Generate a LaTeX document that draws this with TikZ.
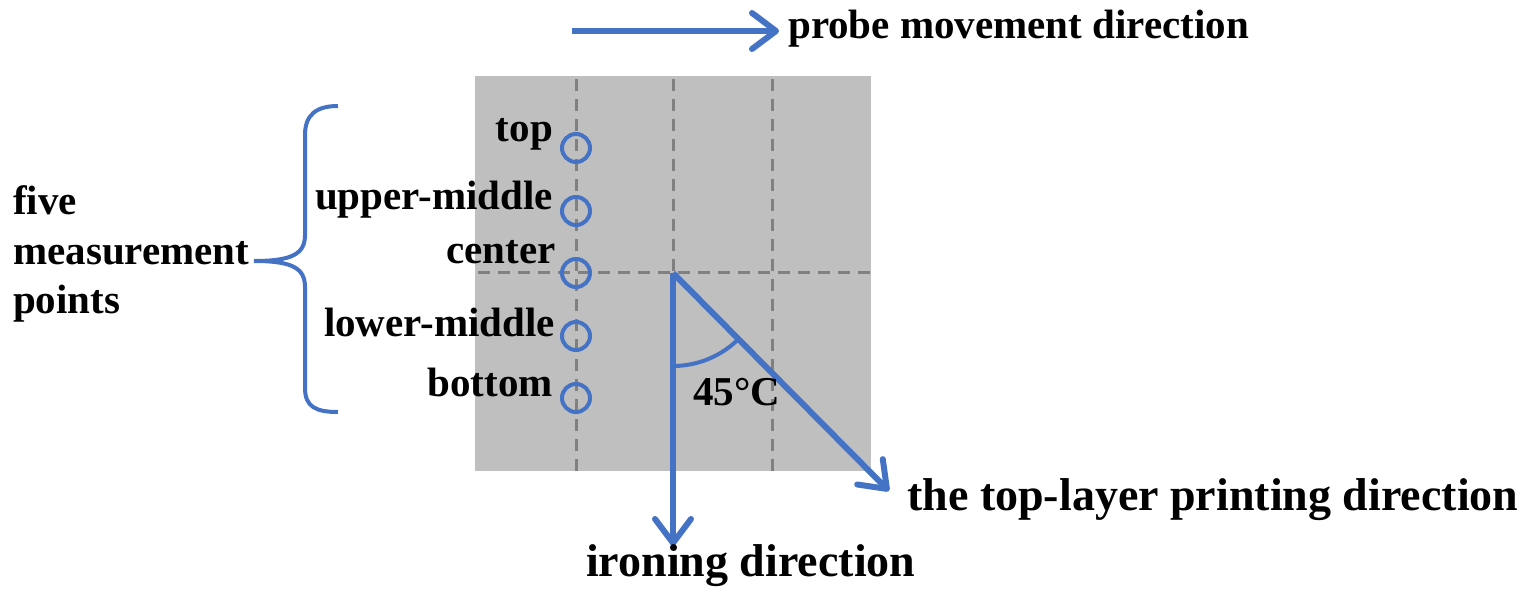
\documentclass[tikz,border=0pt]{standalone}
\usepackage{fontspec}
\setmainfont{Liberation Serif}
\usetikzlibrary{arrows.meta}
\definecolor{myblue}{HTML}{4472C4}
\definecolor{panelgray}{HTML}{BFBFBF}
\definecolor{gridgray}{HTML}{808080}
\begin{document}
\begin{tikzpicture}[x=1pt,y=-1pt,
  lbl/.style={inner sep=0pt, font=\fontsize{41}{49}\selectfont\bfseries},
  biglbl/.style={inner sep=0pt, font=\fontsize{46}{55}\selectfont\bfseries},
  gridline/.style={gridgray, line width=3pt, dash pattern=on 12pt off 8pt},
  mpoint/.style={circle, draw=myblue, line width=4pt, minimum size=28pt, inner sep=0pt},
  dirarrow/.style={myblue, line width=6pt, -{Straight Barb[length=24pt,width=36pt,line cap=round,line join=round]}},
  bluestroke/.style={myblue, line width=4pt}]
\useasboundingbox (0,0) rectangle (1527,596);
% panel
\fill[panelgray] (475,76) rectangle (871,471);
% grid lines
\draw[gridline] (576,79) -- (576,471);
\draw[gridline] (673,79) -- (673,471);
\draw[gridline] (772,79) -- (772,471);
\draw[gridline] (478,273) -- (871,273);
% measurement points
\node[mpoint] (p1) at (576,148) {};
\node[mpoint] (p2) at (576,211) {};
\node[mpoint] (p3) at (576,273) {};
\node[mpoint] (p4) at (576,336) {};
\node[mpoint] (p5) at (576,398) {};
% labels of points
\node[lbl, anchor=base east] (ltop) at (553,142) {top};
\node[lbl, anchor=base east] (lup) at (553,210) {upper-middle};
\node[lbl, anchor=base east] (lcen) at (556,264) {center};
\node[lbl, anchor=base east] (llow) at (555,337) {lower-middle};
\node[lbl, anchor=base east] (lbot) at (553,396) {bottom};
% brace
\draw[bluestroke] (338,106) .. controls (316,106) and (305,115) .. (305,135)
  -- (305,235) .. controls (305,254) and (292,261) .. (254,261)
  .. controls (292,261) and (305,268) .. (305,287)
  -- (305,388) .. controls (305,407) and (316,412) .. (338,412);
\node[lbl, anchor=base west] (lfive) at (13,215) {five};
\node[lbl, anchor=base west] (lmeas) at (13,265) {measurement};
\node[lbl, anchor=base west] (lpts) at (13,313) {points};
% probe direction
\coordinate (pa) at (572,31);
\coordinate (pb) at (779,31);
\draw[dirarrow] (pa) -- (pb);
\node[lbl, anchor=base west] (lprobe) at (788,39) {probe movement direction};
% ironing and printing directions
\coordinate (o) at (673,273);
\coordinate (iron) at (673,546);
\coordinate (print) at (889,491);
\draw[dirarrow] (o) -- (iron);
\draw[dirarrow] (o) -- (print);
\coordinate (a1) at (673,366);
\draw[bluestroke] (a1) arc[start angle=90, end angle=45, radius=93];
\node[lbl, anchor=base west] (ang) at (693,405) {45°C};
\node[biglbl, anchor=base west] (lprint) at (907,510) {the top-layer printing direction};
\node[biglbl, anchor=base west] (liron) at (586,576) {ironing direction};
\end{tikzpicture}
\end{document}
